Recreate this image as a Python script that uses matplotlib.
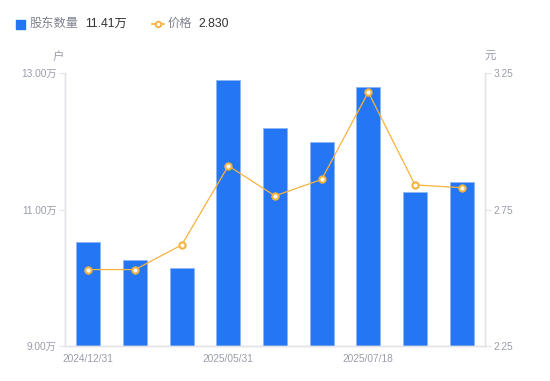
import numpy as np
import matplotlib
matplotlib.use("Agg")
import matplotlib.pyplot as plt
from matplotlib.lines import Line2D

plt.rcParams["font.family"] = ["Liberation Sans", "Noto Sans CJK SC", "DejaVu Sans"]

# 数据
dates = ["2024/12/31", "", "", "2025/05/31", "", "", "2025/07/18", "", ""]
holders = [10.52, 10.26, 10.14, 12.90, 12.19, 11.99, 12.79, 11.26, 11.41]  # 万户
price = [2.53, 2.53, 2.62, 2.91, 2.80, 2.86, 3.18, 2.84, 2.83]
left_ticks = [9.0, 11.0, 13.0]
right_ticks = [2.25, 2.75, 3.25]

BLUE = "#2576F3"
ORANGE = "#F7B33F"
GRAY = "#9A9DAA"
AXIS = "#E3E4E8"


def main():
    fig = plt.figure(figsize=(5.5, 3.81), dpi=100)
    ax = fig.add_axes([65 / 550, 1 - 346 / 381, 420 / 550, 273 / 381])
    x = np.arange(len(holders))

    ax.bar(x, holders, width=0.52, bottom=0, color=BLUE,
           edgecolor="#8DB6FA", linewidth=0.6, zorder=2)
    ax.set_xlim(-0.5, len(holders) - 0.5)
    ax.set_ylim(left_ticks[0], left_ticks[-1])
    ax.set_yticks(left_ticks)
    ax.set_yticklabels([f"{v:.2f}万" for v in left_ticks])
    ax.set_xticks(x)
    ax.set_xticklabels(dates)

    ax2 = ax.twinx()
    ax2.plot(x, price, color=ORANGE, linewidth=0.9, marker="o", markersize=4.5,
             markerfacecolor="white", markeredgecolor=ORANGE, markeredgewidth=1.5,
             zorder=3)
    ax2.set_ylim(right_ticks[0], right_ticks[-1])
    ax2.set_yticks(right_ticks)
    ax2.set_yticklabels([f"{v:.2f}" for v in right_ticks])

    for a in (ax, ax2):
        for s in a.spines.values():
            s.set_color(AXIS)
            s.set_linewidth(1)
        a.spines["top"].set_visible(False)
        a.tick_params(colors=GRAY, labelsize=7.3, length=4, width=0.8)
        a.tick_params(axis="y", color=AXIS, labelcolor=GRAY)
    ax.tick_params(axis="x", length=0, pad=6)
    ax2.tick_params(axis="y", pad=2)
    ax.tick_params(axis="y", pad=2)

    fig.text(58 / 550, 1 - 57 / 381, "户", color=GRAY, fontsize=8.2,
             ha="center", va="center")
    fig.text(490 / 550, 1 - 57 / 381, "元", color=GRAY, fontsize=8.2,
             ha="center", va="center")

    # 图例
    ly = 1 - 24 / 381
    fig.patches.append(plt.Rectangle((16 / 550, ly - 4.5 / 381), 9 / 550, 9 / 381,
                                     transform=fig.transFigure, color=BLUE))
    fig.text(30 / 550, ly, "股东数量", color="#80838F", fontsize=8.8, va="center")
    fig.text(85 / 550, ly, f"{holders[-1]:.2f}万", color="#333333", fontsize=8.8,
             va="center")
    fig.lines.append(Line2D([152 / 550, 164 / 550], [ly, ly], transform=fig.transFigure,
                            color=ORANGE, linewidth=1.2))
    fig.lines.append(Line2D([158 / 550], [ly], transform=fig.transFigure, marker="o",
                            markersize=4, markerfacecolor="white",
                            markeredgecolor=ORANGE, markeredgewidth=1.4))
    fig.text(168 / 550, ly, "价格", color="#80838F", fontsize=8.8, va="center")
    fig.text(198 / 550, ly, f"{price[-1]:.3f}", color="#333333", fontsize=8.8,
             va="center")

    fig.savefig("out.png", dpi=100)


if __name__ == "__main__":
    main()
